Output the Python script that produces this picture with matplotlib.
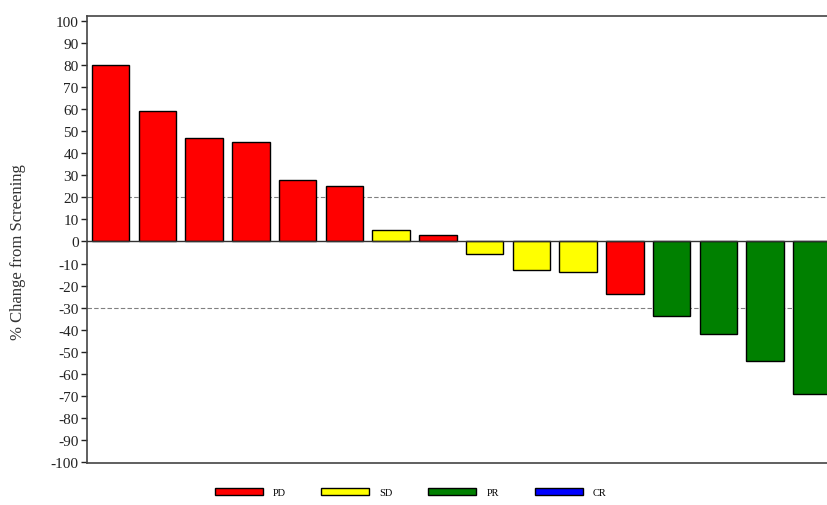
import matplotlib
matplotlib.use("Agg")
import matplotlib.pyplot as plt
from matplotlib.patches import Patch

plt.rcParams['font.family'] = ['Liberation Serif', 'DejaVu Serif']

# percent change from screening, one bar per patient
pct_change = [80, 59, 47, 45, 28, 25, 5, 3, -5.5, -13, -14, -24, -34, -42, -54, -69]
response = ['PD', 'PD', 'PD', 'PD', 'PD', 'PD', 'SD', 'PD', 'SD', 'SD', 'SD', 'PD',
            'PR', 'PR', 'PR', 'PR']

legend_labels = ['PD', 'SD', 'PR', 'CR']
colors = {'PD': '#ff0000', 'SD': '#ffff00', 'PR': '#008000', 'CR': '#0000ff'}
y_ticks = list(range(-100, 101, 10))
thresholds = [20, -30]

fig = plt.figure(figsize=(8.28, 5.06), dpi=100)
ax = fig.add_axes([87 / 828, 1 - 464 / 506, 1.003 - 87 / 828, (464 - 17) / 506])

x = list(range(len(pct_change)))
ax.bar(x, pct_change, width=0.8, color=[colors[r] for r in response],
       edgecolor='black', linewidth=1, zorder=3)

# reference lines
for t in thresholds:
    ax.axhline(t, color='#808080', linestyle=(0, (4, 2)), linewidth=0.8, zorder=1)
ax.axhline(0, color='#333333', linewidth=1, zorder=4)

ax.set_xlim(-0.505, 15.4)
ax.set_ylim(-100.5, 102.3)
ax.set_yticks(y_ticks)
ax.set_yticklabels([str(t) for t in y_ticks], fontsize=11)
ax.set_xticks([])
ax.tick_params(axis='y', direction='out', length=4, width=1, pad=2, colors='#222222')

for side in ['left', 'top', 'bottom']:
    ax.spines[side].set_color('#444444')
    ax.spines[side].set_linewidth(1.2)
ax.spines['right'].set_visible(False)

fig.text(18 / 828, 1 - 252 / 506, '% Change from Screening', rotation=90,
         ha='center', va='center', fontsize=12, color='#333333')

handles = [Patch(facecolor=colors[k], edgecolor='black', linewidth=1, label=k)
           for k in legend_labels]
fig.legend(handles=handles, loc='center', bbox_to_anchor=(0.496, 0.024), ncol=4,
           frameon=False, fontsize=7.5, handlelength=4.6, handleheight=0.65,
           handletextpad=1.0, columnspacing=3.4)

plt.savefig('out.png')
